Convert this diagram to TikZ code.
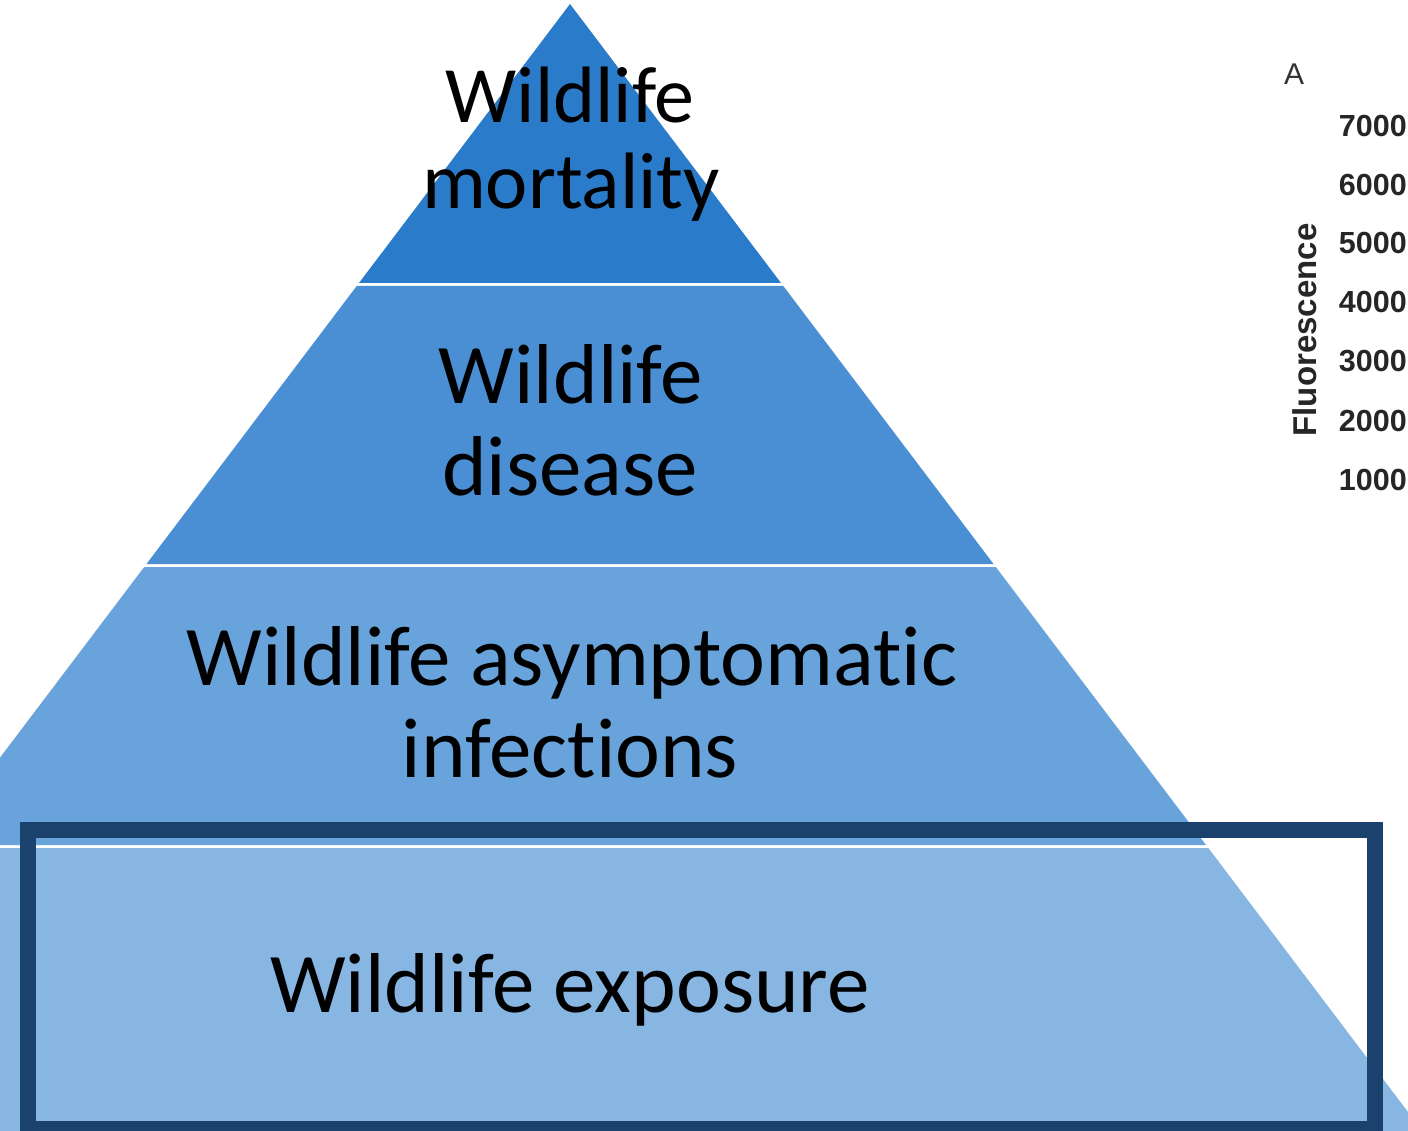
\documentclass[tikz,border=0pt]{standalone}
\usepackage{fontspec}
\setmainfont[Ligatures={NoCommon}]{Carlito}
\newfontfamily\chartfont{Liberation Sans}
\definecolor{lay1}{HTML}{2A7CCA}
\definecolor{lay2}{HTML}{4A8FD4}
\definecolor{lay3}{HTML}{68A4DB}
\definecolor{lay4}{HTML}{88B6E2}
\definecolor{boxblue}{HTML}{1B416D}
\tikzset{
  layertext/.style={inner sep=0pt, anchor=base, font=\fontsize{85}{92}\selectfont},
  toptext/.style={inner sep=0pt, anchor=base, font=\fontsize{80}{87}\selectfont},
  ticklabel/.style={inner sep=0pt, anchor=base east, font=\chartfont\bfseries\fontsize{30.5}{32}\selectfont, text=black!85},
}
\begin{document}
\begin{tikzpicture}[x=1pt,y=-1pt]
\useasboundingbox (0,0) rectangle (1408,1131);
\clip (0,0) rectangle (1408,1131);
\fill[white] (0,0) rectangle (1408,1131);
\def\k{0.7563}
% pyramid layers
\fill[lay1] (570,4) -- ({570+\k*279},283) -- ({570-\k*279},283) -- cycle;
\fill[lay2] ({570-\k*282},286) -- ({570+\k*282},286) -- ({570+\k*560},564) -- ({570-\k*560},564) -- cycle;
\fill[lay3] ({570-\k*563},567) -- ({570+\k*563},567) -- ({570+\k*841},845) -- ({570-\k*841},845) -- cycle;
\fill[lay4] ({570-\k*844},848) -- ({570+\k*844},848) -- ({570+\k*1140},1144) -- ({570-\k*1140},1144) -- cycle;
% labels
\node[toptext] (t1a) at (570,123) {Wildlife};
\node[toptext] (t1b) at (571,209) {mortality};
\node[layertext] (t2a) at (571,403) {Wildlife};
\node[layertext] (t2b) at (570,495) {disease};
\node[layertext] (t3a) at (572,685) {Wildlife asymptomatic};
\node[layertext] (t3b) at (570,777) {infections};
\node[layertext] (t4) at (570,1012) {Wildlife exposure};
% highlight box
\draw[boxblue, line width=16pt] (28,830) rectangle (1375,1129);
% chart fragment
\node[inner sep=0pt, anchor=base west, font=\chartfont\fontsize{30}{32}\selectfont, text=black!80] (chA) at (1284,85) {A};
\node[ticklabel] (y7) at (1407,137) {7000};
\node[ticklabel] (y6) at (1407,196) {6000};
\node[ticklabel] (y5) at (1407,254) {5000};
\node[ticklabel] (y4) at (1407,313) {4000};
\node[ticklabel] (y3) at (1407,372) {3000};
\node[ticklabel] (y2) at (1407,431) {2000};
\node[ticklabel] (y1) at (1407,490) {1000};
\node[inner sep=0pt, rotate=90, font=\chartfont\bfseries\fontsize{33}{35}\selectfont, text=black!85] (ylab) at (1305,330) {Fluorescence};
\end{tikzpicture}
\end{document}
